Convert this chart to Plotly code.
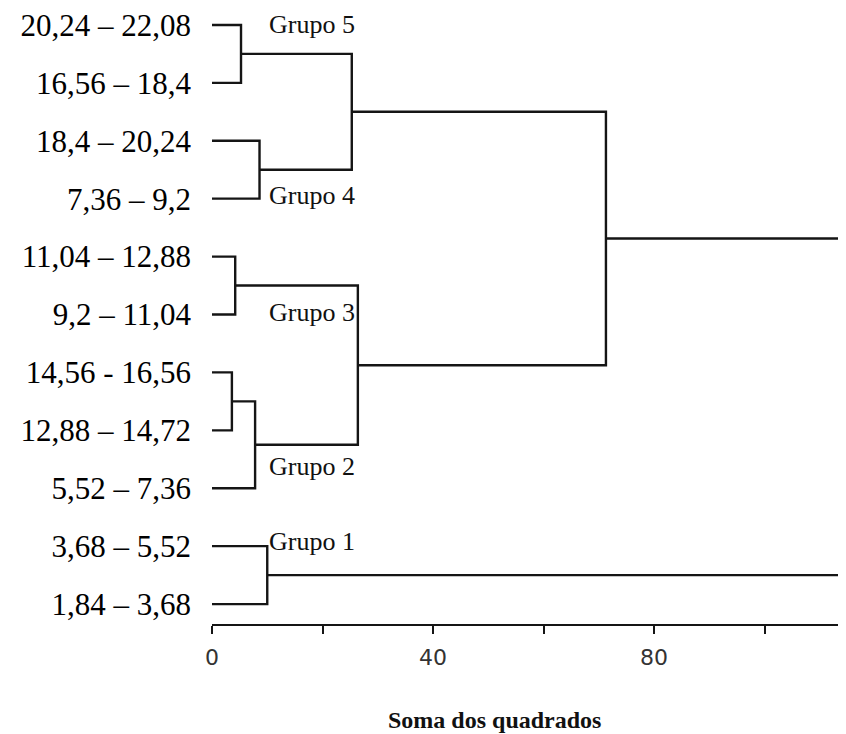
import plotly.graph_objects as go

# Leaf labels (top to bottom)
leaf_labels = [
    "20,24 – 22,08",
    "16,56 – 18,4",
    "18,4 – 20,24",
    "7,36 – 9,2",
    "11,04 – 12,88",
    "9,2 – 11,04",
    "14,56 - 16,56",
    "12,88 – 14,72",
    "5,52 – 7,36",
    "3,68 – 5,52",
    "1,84 – 3,68",
]

# Linkage (scipy-like: new cluster id = n_leaves + merge index)
merge_left = [0, 2, 11, 4, 6, 15, 14, 13, 9, 18]
merge_right = [1, 3, 12, 5, 7, 8, 16, 17, 10, 19]
merge_height = [5.25, 8.6, 25.3, 4.2, 3.6, 7.8, 26.4, 71.3, 10.0, 140.0]

group_names = ["Grupo 5", "Grupo 4", "Grupo 3", "Grupo 2", "Grupo 1"]

x_ticks = [0, 20, 40, 60, 80, 100]
x_tick_text = ["0", "", "40", "", "80", ""]

n = len(leaf_labels)
pos_y = {i: float(i) for i in range(n)}
pos_x = {i: 0.0 for i in range(n)}

xs, ys = [], []
for k, (a, b, h) in enumerate(zip(merge_left, merge_right, merge_height)):
    cid = n + k
    ya, yb = pos_y[a], pos_y[b]
    xs += [pos_x[a], h, h, pos_x[b], None]
    ys += [ya, ya, yb, yb, None]
    pos_y[cid] = (ya + yb) / 2
    pos_x[cid] = h

line_color = "#151515"
fig = go.Figure()
fig.add_trace(go.Scatter(x=xs, y=ys, mode="lines",
                         line=dict(color=line_color, width=2.4),
                         hoverinfo="skip", showlegend=False))

# group label anchor positions (data coords)
grp_x = [10.0, 10.0, 10.0, 10.0, 10.0]
grp_y = [0.0, 2.94, 4.97, 7.63, 8.92]
for name, gx, gy in zip(group_names, grp_x, grp_y):
    fig.add_annotation(x=gx, y=gy, text=name, showarrow=False,
                       xanchor="left", yanchor="middle",
                       font=dict(family="Liberation Serif", size=26, color="#111"))

fig.add_annotation(x=0.445, y=-0.156, xref="paper", yref="paper",
                   text="<b>Soma dos quadrados</b>", showarrow=False,
                   xanchor="center", yanchor="middle",
                   font=dict(family="Liberation Serif", size=24, color="#111"))

# page body has an 8px margin, so the figure is sized/offset to compensate
fig.update_layout(
    width=838, height=726,
    margin=dict(l=204, r=0, t=0, b=110),
    paper_bgcolor="white", plot_bgcolor="white",
    xaxis=dict(range=[0, 114.75], tickvals=x_ticks, ticktext=x_tick_text,
               showgrid=False, zeroline=False, showline=True,
               linecolor=line_color, linewidth=2.4,
               ticks="outside", ticklen=8, tickwidth=2, tickcolor=line_color,
               ticklabelstandoff=4,
               tickfont=dict(family="DejaVu Sans", size=22, color="#333")),
    yaxis=dict(range=[10.344, -0.2405], tickvals=list(range(n)), ticktext=leaf_labels,
               showgrid=False, zeroline=False, showline=False, ticks="",
               ticklabelstandoff=20, ticklabeloverflow="allow",
               tickfont=dict(family="Liberation Serif", size=31, color="#000")),
)

fig.write_html("out.html")
